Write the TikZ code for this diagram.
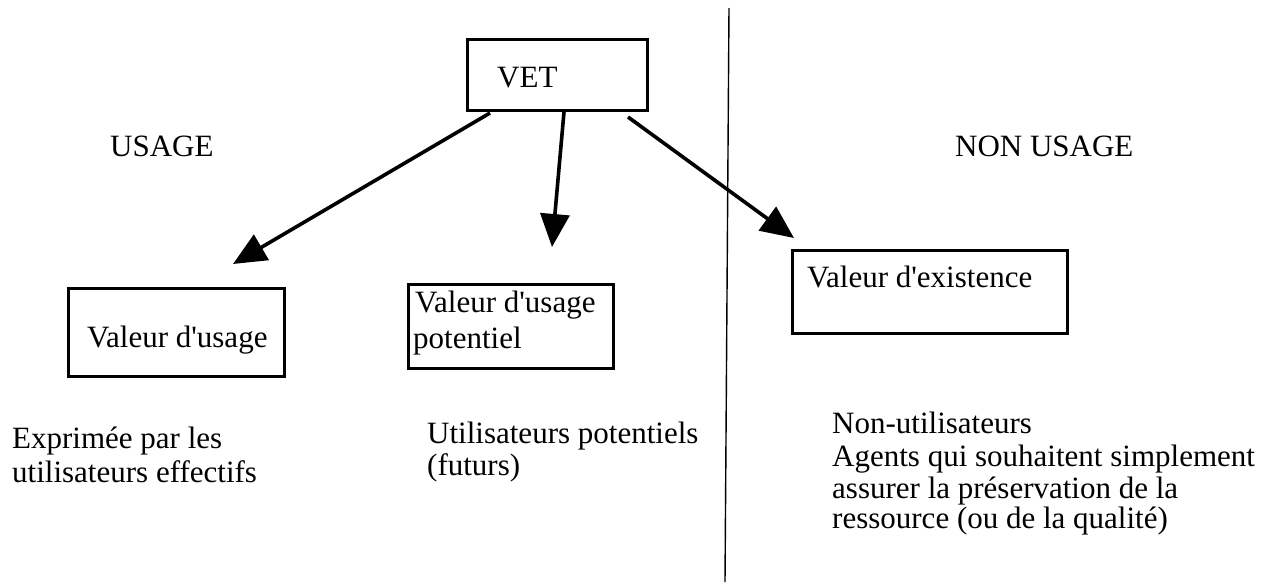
\documentclass[tikz,border=0pt]{standalone}
\usepackage{fontspec}
\setmainfont{Liberation Serif}
\usetikzlibrary{arrows.meta}
\newcommand{\apos}{\textquotesingle}
\begin{document}
\begin{tikzpicture}[x=1pt,y=-1pt,
  box/.style={draw, line width=2.6pt, anchor=north west, inner sep=0pt},
  txt/.style={anchor=base west, inner sep=0pt, font=\fontsize{31}{33}\selectfont},
  arr/.style={line width=3.6pt, -{Triangle[length=33pt,width=29pt]}},
  divider/.style={line width=1.4pt}]
\useasboundingbox (0,0) rectangle (1275,584);

% vertical divider between use and non-use values
\coordinate (divtop) at (729,8);
\coordinate (divbot) at (725,582);
\draw[divider] (divtop) -- (divbot);

% top box
\node[box, minimum width=180pt, minimum height=71pt] (vet) at (466,38) {};
\node[txt] (vett) at (497,87) {VET};

% section headings
\node[txt] (usage) at (110,156) {USAGE};
\node[txt] (nonusage) at (955,156) {NON USAGE};

% value boxes
\node[box, minimum width=216pt, minimum height=88pt] (vu) at (67,287) {};
\node[txt] (vut) at (87,347) {Valeur d\apos usage};

\node[box, minimum width=205pt, minimum height=84pt] (vp) at (407,283) {};
\node[txt] (vpt1) at (415,312) {Valeur d\apos usage};
\node[txt] (vpt2) at (413,348) {potentiel};

\node[box, minimum width=275pt, minimum height=83pt] (ve) at (791,249) {};
\node[txt] (vet1) at (807,287) {Valeur d\apos existence};

% descriptions
\node[txt] (d1a) at (12,448) {Exprimée par les};
\node[txt] (d1b) at (12,482) {utilisateurs effectifs};

\node[txt] (d2a) at (427,443) {Utilisateurs potentiels};
\node[txt] (d2b) at (427,475) {(futurs)};

\node[txt] (d3a) at (832,433) {Non-utilisateurs};
\node[txt] (d3b) at (832,466) {Agents qui souhaitent simplement};
\node[txt] (d3c) at (832,498) {assurer la préservation de la};
\node[txt] (d3d) at (832,528) {ressource (ou de la qualité)};

% arrows from the top box
\coordinate (s1) at (490,113);
\coordinate (e1) at (233,264);
\coordinate (s2) at (564,112);
\coordinate (e2) at (552,247);
\coordinate (s3) at (628,117);
\coordinate (e3) at (794,238);
\draw[arr] (s1) -- (e1);
\draw[arr] (s2) -- (e2);
\draw[arr] (s3) -- (e3);
\end{tikzpicture}
\end{document}
